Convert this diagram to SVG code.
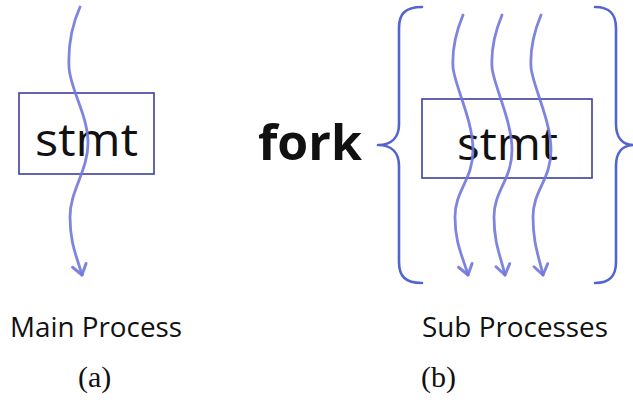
<svg xmlns="http://www.w3.org/2000/svg" width="633" height="402" viewBox="0 0 633 402">
  <style>
    .box { fill: none; stroke: #3d3f9e; stroke-width: 1.6; }
    .stmt { font-family: "Open Sans", "Liberation Sans", sans-serif; font-size: 46px; font-weight: 500; fill: #111; }
    .fork { font-family: "Open Sans", "Liberation Sans", sans-serif; font-size: 48px; font-weight: bold; fill: #111; }
    .label { font-family: "Open Sans", "Liberation Sans", sans-serif; font-size: 27px; font-weight: 500; fill: #111; }
    .tag { font-family: "Liberation Serif", "DejaVu Serif", serif; font-size: 30px; fill: #111; }
    .brace { fill: none; stroke: #5265cf; stroke-width: 2.6; stroke-linecap: round; stroke-linejoin: round; }
    .flow { fill: none; stroke: #7078dc; stroke-width: 2.8; stroke-linecap: round; stroke-opacity: 0.9; marker-end: url(#vhead); }
  </style>
  <defs>
    <marker id="vhead" markerUnits="userSpaceOnUse" markerWidth="20" markerHeight="20" refX="0" refY="0" viewBox="-12 -10 14 20" orient="auto">
      <path d="M-10,-7 L0,0 L-10,7" fill="none" stroke="#7078dc" stroke-width="3" stroke-linecap="round" stroke-linejoin="round" stroke-opacity="0.9"/>
    </marker>
  </defs>

  <rect width="633" height="402" fill="#fff"/>

  <!-- (a) main process -->
  <g id="main-stmt">
    <rect class="box" x="19" y="93" width="135" height="81"/>
    <text class="stmt" x="35" y="156" textLength="103" lengthAdjust="spacingAndGlyphs">stmt</text>
  </g>
  <g id="main-label">
    <text class="label" x="10" y="337" textLength="172" lengthAdjust="spacingAndGlyphs">Main Process</text>
    <text class="tag" x="78" y="387">(a)</text>
  </g>

  <!-- (b) fork with sub processes -->
  <g id="fork-label">
    <text class="fork" x="258" y="160" textLength="104" lengthAdjust="spacingAndGlyphs">fork</text>
  </g>
  <g id="fork-braces">
    <path class="brace" d="M422,7 C405,7 399,14 399,28 L399,124 C399,137 392,145 378,145 C392,145 399,153 399,166 L399,262 C399,276 405,283 422,283"/>
    <path class="brace" d="M595,7 C610,7 616,14 616,28 L616,124 C616,137 622,145 634,145 C622,145 616,153 616,166 L616,262 C616,276 610,283 595,283"/>
  </g>
  <g id="sub-stmt">
    <rect class="box" x="422" y="99" width="170" height="79"/>
    <text class="stmt" x="457" y="160" textLength="101" lengthAdjust="spacingAndGlyphs">stmt</text>
  </g>
  <g id="sub-label">
    <text class="label" x="422" y="337" textLength="186" lengthAdjust="spacingAndGlyphs">Sub Processes</text>
    <text class="tag" x="421" y="387">(b)</text>
  </g>

  <!-- process flows -->
  <g id="connectors">
    <path class="flow" d="M80,7 C72,25 68,45 69,67 S88,115 88,143 S70,190 70,217 S77,257 82,275"/>
    <path class="flow" d="M463,15 C456,32 452,50 453,67 S473,120 473,150 S455,190 455,217 S463,257 468,275"/>
    <path class="flow" d="M502,15 C495,32 491,50 492,67 S512,120 512,150 S494,190 494,217 S501,257 505,275"/>
    <path class="flow" d="M541,15 C534,32 530,50 531,67 S551,120 551,150 S533,190 533,217 S539,257 543,275"/>
  </g>
</svg>
